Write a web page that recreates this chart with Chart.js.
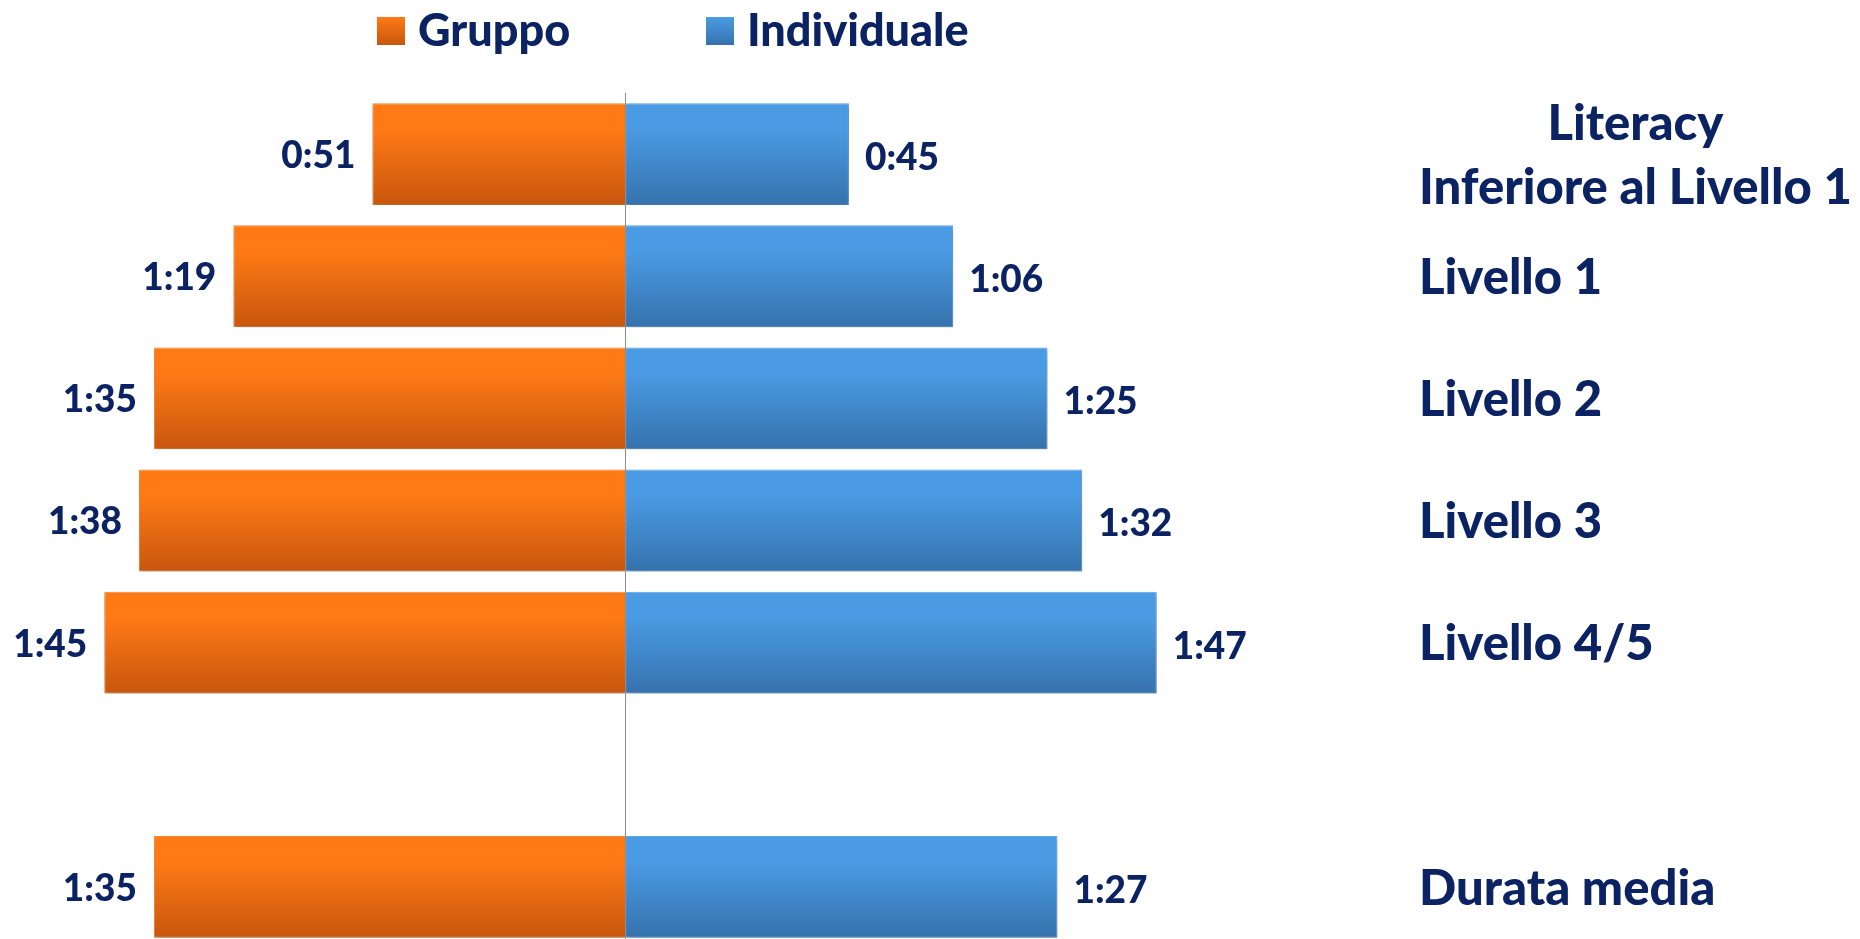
<!DOCTYPE html>
<html>
<head>
<meta charset="utf-8">
<script src="https://cdn.jsdelivr.net/npm/chart.js@4"></script>
<style>
  html, body { margin: 0; padding: 0; background: #fff; overflow: hidden; }
  #wrap { width: 1860px; height: 948px; }
</style>
</head>
<body>
<div id="wrap"><canvas id="graph"></canvas></div>
<script>
// categorie (riga vuota prima della durata media)
var categorie = [["Literacy", "Inferiore al Livello 1"], "Livello 1", "Livello 2", "Livello 3", "Livello 4/5", "", "Durata media"];
// durate (ore:minuti)
var gruppo = ["0:51", "1:19", "1:35", "1:38", "1:45", null, "1:35"];
var individuale = ["0:45", "1:06", "1:25", "1:32", "1:47", null, "1:27"];
var serie = ["Gruppo", "Individuale"];

var BLU_SCURO = "#0b2362";
var FONT = "Lato, 'Open Sans', sans-serif";

function minuti(s) {
  if (!s) return null;
  var p = s.split(":");
  return parseInt(p[0]) * 60 + parseInt(p[1]);
}

function sfumatura(alto, basso) {
  return function (c) {
    var ch = c.chart;
    if (!ch.chartArea) return basso;
    var y = ch.scales.y;
    var passo = y.getPixelForValue(1) - y.getPixelForValue(0);
    var yc = y.getPixelForValue(c.dataIndex);
    var h = passo * 0.834;
    var g = ch.ctx.createLinearGradient(0, yc - h / 2, 0, yc + h / 2);
    g.addColorStop(0, alto);
    g.addColorStop(0.25, alto);
    g.addColorStop(1, basso);
    return g;
  };
}

var etichette = {
  id: "etichette",
  beforeDatasetsDraw: function (ch) {
    ch.ctx.save();
    ch.ctx.shadowColor = "rgba(0,0,0,0.28)";
    ch.ctx.shadowOffsetY = 3;
    ch.ctx.shadowOffsetX = 1;
    ch.ctx.shadowBlur = 4;
  },
  afterDatasetsDraw: function (ch) {
    var ctx = ch.ctx;
    ctx.restore();
    ctx.save();
    ctx.fillStyle = BLU_SCURO;
    ctx.textBaseline = "middle";
    ctx.font = "900 37px " + FONT;
    var testi = [gruppo, individuale];
    ch.data.datasets.forEach(function (ds, d) {
      ch.getDatasetMeta(d).data.forEach(function (bar, i) {
        if (!testi[d][i]) return;
        if (d === 0) {
          ctx.textAlign = "right";
          ctx.fillText(testi[d][i], bar.x - 17, bar.y + 2);
        } else {
          ctx.textAlign = "left";
          ctx.fillText(testi[d][i], bar.x + 16, bar.y + 4);
        }
      });
    });
    // etichette delle categorie a destra
    ctx.font = "900 49px " + FONT;
    var x0 = 1419;
    categorie.forEach(function (cat, i) {
      var y = ch.scales.y.getPixelForValue(i);
      if (Array.isArray(cat)) {
        var w = Math.max.apply(null, cat.map(function (t) { return ctx.measureText(t).width; }));
        ctx.textAlign = "center";
        cat.forEach(function (t, k) {
          ctx.fillText(t, x0 + w / 2, y + (k - (cat.length - 1) / 2) * 64 + 2);
        });
      } else {
        ctx.textAlign = "left";
        ctx.fillText(cat, x0, y + 2);
      }
    });
    // legenda
    var leg = [
      { x: 377, top: "#ff7a15", bot: "#c8560e" },
      { x: 706, top: "#4a9be3", bot: "#3572ad" }
    ];
    ctx.font = "900 45px " + FONT;
    ctx.textAlign = "left";
    leg.forEach(function (l, i) {
      var g = ctx.createLinearGradient(0, 17, 0, 45);
      g.addColorStop(0, l.top);
      g.addColorStop(1, l.bot);
      ctx.fillStyle = g;
      ctx.fillRect(l.x, 17, 28, 28);
      ctx.fillStyle = BLU_SCURO;
      ctx.fillText(serie[i], l.x + 41, 31);
    });
    ctx.restore();
  }
};

var ctx = document.getElementById("graph").getContext("2d");
var chart = new Chart(ctx, {
  type: "bar",
  data: {
    labels: categorie,
    datasets: [
      {
        label: serie[0],
        data: gruppo.map(function (v) { var m = minuti(v); return m === null ? null : -m; }),
        backgroundColor: sfumatura("#ff7a15", "#c8560e"),
        borderColor: "#f5893a",
        borderWidth: 1,
        barPercentage: 0.834,
        categoryPercentage: 1
      },
      {
        label: serie[1],
        data: individuale.map(minuti),
        backgroundColor: sfumatura("#4a9be3", "#3572ad"),
        borderColor: "#5aa5e6",
        borderWidth: 1,
        barPercentage: 0.834,
        categoryPercentage: 1
      }
    ]
  },
  options: {
    indexAxis: "y",
    responsive: true,
    maintainAspectRatio: false,
    animation: false,
    layout: { padding: { top: 93, right: 460, left: 0, bottom: 0 } },
    scales: {
      x: {
        stacked: true,
        min: -126,
        max: 156,
        afterBuildTicks: function (s) { s.ticks = [{ value: 0 }]; },
        ticks: { display: false },
        border: { display: false },
        grid: { color: "#8c8c8c", lineWidth: 1, drawTicks: false }
      },
      y: {
        stacked: true,
        display: false
      }
    },
    plugins: {
      legend: { display: false },
      tooltip: { enabled: false }
    }
  },
  plugins: [etichette]
});
</script>
</body>
</html>
